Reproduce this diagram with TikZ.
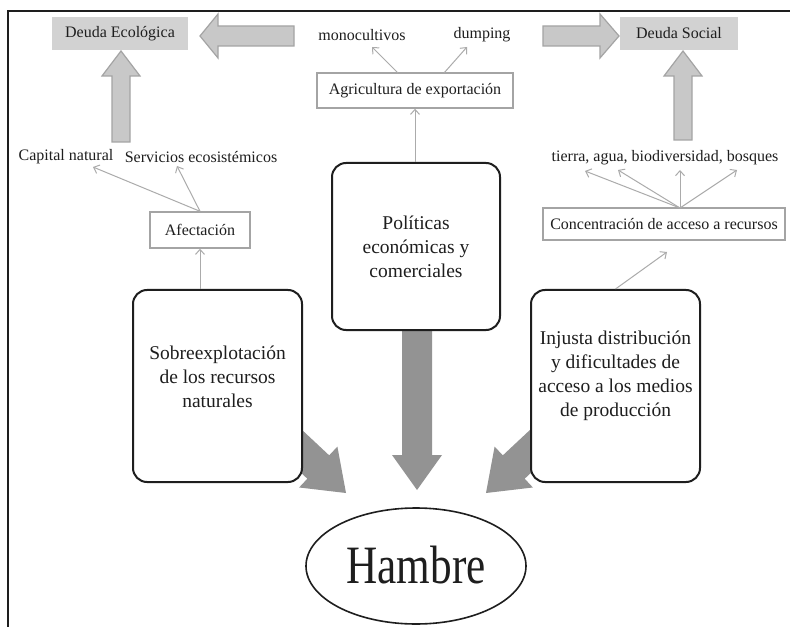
\documentclass[tikz,border=0pt]{standalone}
\usepackage{fontspec}
\setmainfont{Liberation Serif}
\usetikzlibrary{arrows.meta,calc,shapes.geometric}

\definecolor{ink}{HTML}{1E1E1E}
\definecolor{softgray}{HTML}{C8C8C8}
\definecolor{edgegray}{HTML}{A4A4A4}
\definecolor{heavygray}{HTML}{939393}
\definecolor{debtfill}{HTML}{D2D2D2}
\definecolor{wiregray}{HTML}{ABABAB}

% Block arrow from tail (#2) to tip (#3):
% #4 shaft half width, #5 head half width, #6 head length
\newcommand{\blockarr}[6][]{%
  \coordinate (ba-base) at ($(#3)!#6!(#2)$);
  \path[#1] ($(#2)!#4!90:(#3)$) -- ($(ba-base)!#4!90:(#3)$)
    -- ($(ba-base)!#5!90:(#3)$) -- (#3)
    -- ($(ba-base)!#5!-90:(#3)$) -- ($(ba-base)!#4!-90:(#3)$)
    -- ($(#2)!#4!-90:(#3)$) -- cycle;
}

\tikzset{
  lbl/.style={font=\fontsize{16bp}{19bp}\selectfont, text=ink, inner sep=1bp},
  debtbox/.style={lbl, fill=debtfill, minimum height=33bp, inner sep=0},
  plainbox/.style={lbl, draw=edgegray, line width=1.4bp, fill=white, inner sep=0},
  causebox/.style={draw=ink, line width=2bp, rounded corners=14bp, fill=white,
    align=center, font=\fontsize{19.5bp}{24bp}\selectfont, text=ink, inner sep=0},
  thinarr/.style={draw=wiregray, line width=1bp, -{Straight Barb[length=5bp,width=9bp]}},
  litearr/.style={fill=softgray, draw=edgegray, line width=1.2bp},
  darkarr/.style={fill=heavygray}
}

\begin{document}
\begin{tikzpicture}[x=1bp, y=-1bp]
  \useasboundingbox (0,0) rectangle (790,627);
  \fill[white] (0,0) rectangle (790,627);

  % page frame
  \draw[line width=1.5bp, ink] (8,627) -- (8,11) -- (790,11);

  % debts at the top
  \node[debtbox, minimum width=136bp] (deco) at (120,33.5) {Deuda Ecológica};
  \node[debtbox, minimum width=118bp] (desoc) at (679,33.5) {Deuda Social};

  % export agriculture and its effects
  \node[lbl] (mono) at (362,35) {monocultivos};
  \node[lbl] (dump) at (482,35) {dumping};
  \node[plainbox, minimum width=196bp, minimum height=35bp] (agri) at (415,90.5) {Agricultura de exportación};

  % natural resources branch
  \node[lbl] (capnat) at (66,157) {Capital natural};
  \node[lbl] (serv) at (201,157) {Servicios ecosistémicos};
  \node[plainbox, minimum width=100bp, minimum height=36bp] (afect) at (200,230) {Afectación};

  % social branch
  \node[lbl] (tierra) at (665,158) {tierra, agua, biodiversidad, bosques};
  \node[plainbox, minimum width=242bp, minimum height=32bp] (conc) at (664,224) {Concentración de acceso a recursos};

  % heavy arrows into the central node (drawn under the boxes)
  \coordinate (sobre-tail) at (268,420);
  \coordinate (sobre-tip) at (346,493);
  \coordinate (poli-tail) at (417,320);
  \coordinate (poli-tip) at (417,490);
  \coordinate (inj-tail) at (564,420);
  \coordinate (inj-tip) at (486,493);
  \blockarr[darkarr]{sobre-tail}{sobre-tip}{16bp}{28bp}{38bp}
  \blockarr[darkarr]{poli-tail}{poli-tip}{15bp}{25bp}{35bp}
  \blockarr[darkarr]{inj-tail}{inj-tip}{16bp}{28bp}{38bp}

  % the three causes
  \node[causebox, minimum width=169bp, minimum height=192bp] (sobre) at (217.5,386)
    {Sobreexplotación\\de los recursos\\naturales\\[-6bp]\mbox{}};
  \node[causebox, minimum width=168bp, minimum height=167bp] (poli) at (416,246.5)
    {Políticas\\económicas y\\comerciales};
  \node[causebox, minimum width=169bp, minimum height=192bp] (inj) at (615.5,386)
    {Injusta distribución\\y dificultades de\\acceso a los medios\\de producción\\[0bp]\mbox{}};

  % hunger
  \node[ellipse, draw=ink, line width=1.6bp, minimum width=220bp, minimum height=116bp,
    inner sep=0, font=\fontsize{54bp}{54bp}\selectfont, text=ink] (hambre) at (416,566)
    {\raisebox{3bp}{\scalebox{0.8}[1]{Hambre}}};

  % light block arrows towards the debts
  \coordinate (eco-tail) at (294,36);
  \coordinate (eco-tip) at (200,36);
  \coordinate (soc-tail) at (543,36);
  \coordinate (soc-tip) at (619,36);
  \coordinate (ecoup-tail) at (121,142);
  \coordinate (ecoup-tip) at (121,51);
  \coordinate (socup-tail) at (683,140);
  \coordinate (socup-tip) at (683,51);
  \blockarr[litearr]{eco-tail}{eco-tip}{10bp}{22bp}{18bp}
  \blockarr[litearr]{soc-tail}{soc-tip}{10bp}{22bp}{19bp}
  \blockarr[litearr]{ecoup-tail}{ecoup-tip}{9bp}{19bp}{25bp}
  \blockarr[litearr]{socup-tail}{socup-tip}{9bp}{19bp}{25bp}

  % thin connectors
  \draw[thinarr] (sobre.north -| afect.south) -- (afect.south);
  \coordinate (capnat-in) at (93,167);
  \coordinate (serv-in) at (177,166);
  \draw[thinarr] (afect.north) -- (capnat-in);
  \draw[thinarr] (afect.north) -- (serv-in);

  \draw[thinarr] (poli.north -| agri.south) -- (agri.south);
  \coordinate (agri-l) at (398,73);
  \coordinate (agri-r) at (444,73);
  \coordinate (mono-in) at (372,47);
  \coordinate (dump-in) at (467,47);
  \draw[thinarr] (agri-l) -- (mono-in);
  \draw[thinarr] (agri-r) -- (dump-in);

  \coordinate (conc-in) at (667,252);
  \draw[thinarr] (inj.north) -- (conc-in);
  \coordinate (conc-top) at (680,208);
  \coordinate (t1) at (585,171);
  \coordinate (t2) at (618,170);
  \coordinate (t3) at (680,170);
  \coordinate (t4) at (737,170);
  \foreach \t in {t1,t2,t3,t4} \draw[thinarr] (conc-top) -- (\t);
\end{tikzpicture}
\end{document}
